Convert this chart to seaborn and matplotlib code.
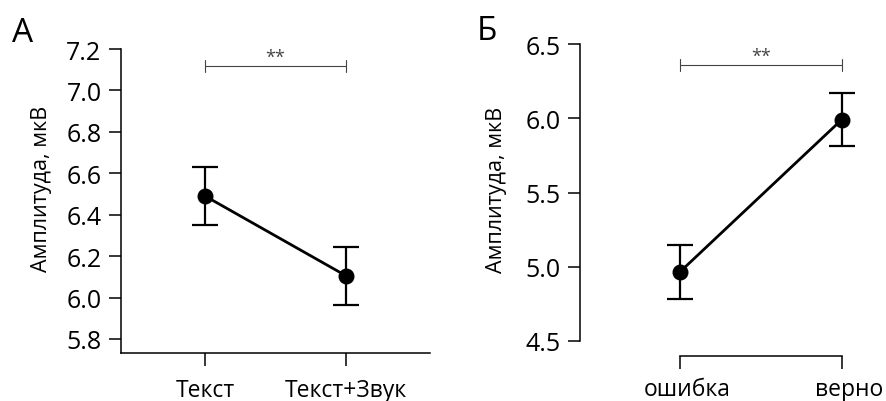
import matplotlib
matplotlib.use("Agg")
import matplotlib.pyplot as plt
import matplotlib.transforms as mtransforms
import seaborn as sns
import pandas as pd

sns.set_theme(style="ticks")
plt.rcParams['font.family'] = ['Open Sans', 'DejaVu Sans']
plt.rcParams.update({"text.color": "black", "axes.labelcolor": "black",
                     "xtick.color": "black", "ytick.color": "black"})

# Panel A
cats_a = ["Текст", "Текст+Звук"]
means_a = [6.49, 6.105]
sem_a = [0.14, 0.14]
yticks_a = [5.8, 6.0, 6.2, 6.4, 6.6, 6.8, 7.0, 7.2]

# Panel B
cats_b = ["ошибка", "верно"]
means_b = [4.965, 5.99]
sem_b = [0.18, 0.18]
yticks_b = [4.5, 5.0, 5.5, 6.0, 6.5]

ylabel = "Амплитуда, мкВ"
sig_text = "**"
panel_labels = ["А", "Б"]

W, H = 886, 402
fig = plt.figure(figsize=(W / 100, H / 100), dpi=100)

def frac(x0, y0, x1, y1):
    return [x0 / W, 1 - y1 / H, (x1 - x0) / W, (y1 - y0) / H]

ax_a = fig.add_axes(frac(121, 50, 430, 354))
ax_b = fig.add_axes(frac(595, 45, 874, 342))

def draw(ax, cats, means, sems, yticks, ylim, xlim, bracket_y):
    df = pd.DataFrame({"cond": cats, "amp": means})
    sns.pointplot(data=df, x="cond", y="amp", color="black", errorbar=None,
                  markers="o", markersize=10, linewidth=2.0, ax=ax, zorder=3)
    xs = list(range(len(cats)))
    ax.errorbar(xs, means, yerr=sems, fmt="none", ecolor="black",
                elinewidth=1.6, capsize=9.5, capthick=1.6, zorder=2)
    ax.set_xlim(*xlim)
    ax.set_ylim(*ylim)
    ax.set_yticks(yticks)
    ax.set_yticklabels([f"{t:.1f}" for t in yticks])
    ax.set_xlabel("")
    ax.set_ylabel(ylabel, fontsize=15.5)
    ax.tick_params(axis="y", labelsize=18, length=9, width=1.1, pad=5)
    ax.tick_params(axis="x", labelsize=16.5, length=9, width=1.1, pad=9)
    for s in ["left", "bottom"]:
        ax.spines[s].set_linewidth(1.1)
        ax.spines[s].set_color("black")
    ax.plot([xs[0], xs[1]], [bracket_y, bracket_y], color="#444444", lw=0.8)
    ax.text((xs[0] + xs[1]) / 2, bracket_y, sig_text, ha="center",
            va="bottom", fontsize=13, color="#444444")

# Panel A
draw(ax_a, cats_a, means_a, sem_a, yticks_a, (5.732, 7.2), (-0.596, 1.596), 7.12)
sns.despine(ax=ax_a)
for x in [0, 1]:
    ax_a.plot([x, x], [7.09, 7.148], color="#444444", lw=0.8)
ax_a.yaxis.set_label_coords(-0.223, 0.543)

# Panel B
draw(ax_b, cats_b, means_b, sem_b, yticks_b, (4.5, 6.5), (-0.525, 1.2), 6.36)
for x in [0, 1]:
    ax_b.plot([x, x], [6.32, 6.40], color="#444444", lw=0.8)
sns.despine(ax=ax_b, offset=11, trim=True)
ax_b.tick_params(axis="x", pad=6)
ax_b.yaxis.set_label_coords(-0.315, 0.512)
shift = mtransforms.ScaledTranslation(7 / 100, 0, fig.dpi_scale_trans)
for lbl in ax_b.get_xticklabels():
    lbl.set_transform(lbl.get_transform() + shift)

fig.text(12 / W, 1 - 42 / H, panel_labels[0], fontsize=24, ha="left", va="baseline")
fig.text(477 / W, 1 - 40 / H, panel_labels[1], fontsize=24, ha="left", va="baseline")

fig.savefig("out.png", dpi=100)
